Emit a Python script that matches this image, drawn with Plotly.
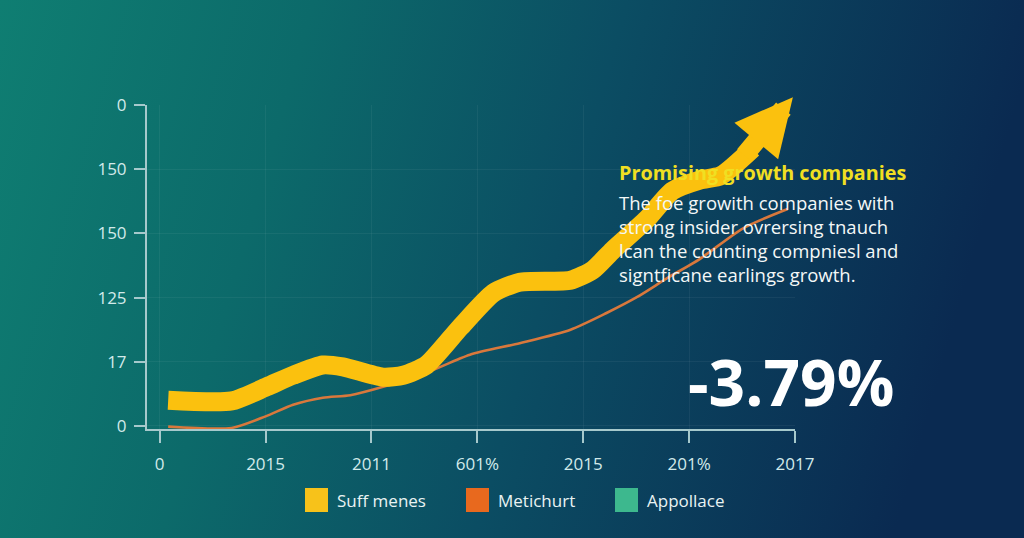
import base64
import plotly.graph_objects as go

# ---------------- data ----------------
x_tick_pos = [0, 1, 2, 3, 4, 5, 6]
x_tick_labels = ["0", "2015", "2011", "601%", "2015", "201%", "2017"]
y_tick_pos = [0, 1, 2, 3, 4, 5]
y_tick_labels = ["0", "17", "125", "150", "150", "0"]

yellow_x = [0.08, 0.68, 1.01, 1.26, 1.54, 1.73, 2.11, 2.30, 2.52, 2.84, 3.15, 3.40,
            3.88, 4.09, 4.28, 4.60, 4.84, 5.10, 5.30, 5.60]
yellow_y = [0.40, 0.39, 0.61, 0.79, 0.95, 0.92, 0.76, 0.79, 0.95, 1.54, 2.07, 2.24,
            2.27, 2.43, 2.74, 3.22, 3.66, 3.83, 3.90, 4.32]
arrow_tip = (5.98, 5.12)

orange_x = [0.08, 0.68, 1.00, 1.26, 1.54, 1.80, 2.11, 2.52, 2.93, 3.40, 3.88, 4.22,
            4.51, 4.80, 5.10, 5.51, 5.93]
orange_y = [-0.01, -0.03, 0.15, 0.33, 0.44, 0.48, 0.61, 0.83, 1.11, 1.29, 1.50, 1.76,
            2.01, 2.31, 2.60, 3.08, 3.38]

series_names = ["Suff menes", "Metichurt", "Appollace"]
series_colors = ["#F7C21A", "#E8691E", "#3DB88E"]

title_text = "Promising growth companies"
body_lines = ["The foe growith companies with",
              "strong insider ovrersing tnauch",
              "lcan the counting compniesl and",
              "signtficane earlings growth."]
big_value = "-3.79%"

# ---------------- layout geometry ----------------
W, H = 1024, 538
L, R, T, B = 147, 229, 105, 109
PW, PH = W - L - R, H - T - B


def px(xp):
    return (xp - L) / PW


def py(yp):
    return (H - B - yp) / PH


# background gradient as svg image
svg = f'''<svg xmlns="http://www.w3.org/2000/svg" width="{W}" height="{H}">
<defs>
<linearGradient id="g" x1="0" y1="0" x2="1" y2="0.15">
<stop offset="0" stop-color="#0f7e72"/>
<stop offset="0.3" stop-color="#0c6a6a"/>
<stop offset="0.6" stop-color="#0b4d63"/>
<stop offset="1" stop-color="#0a2a51"/>
</linearGradient>
</defs>
<rect width="{W}" height="{H}" fill="url(#g)"/>
</svg>'''
bg_src = "data:image/svg+xml;base64," + base64.b64encode(svg.encode()).decode()

fig = go.Figure()

fig.add_trace(go.Scatter(
    x=orange_x, y=orange_y, mode="lines", name=series_names[1],
    line=dict(color="#D9783C", width=2.6, shape="spline", smoothing=0.7),
    showlegend=False, hoverinfo="skip"))

fig.add_trace(go.Scatter(
    x=yellow_x, y=yellow_y, mode="lines", name=series_names[0],
    line=dict(color="#FBC10E", width=19, shape="spline", smoothing=0.6),
    showlegend=False, hoverinfo="skip"))

# arrow start slightly inside the last segment so the two strokes overlap
arrow_start_x = yellow_x[-1] - 0.3 * (yellow_x[-1] - yellow_x[-2])
arrow_start_y = yellow_y[-1] - 0.3 * (yellow_y[-1] - yellow_y[-2])

annotations = []
annotations.append(dict(
    x=arrow_tip[0], y=arrow_tip[1], ax=arrow_start_x, ay=arrow_start_y,
    xref="x", yref="y", axref="x", ayref="y", text="",
    showarrow=True, arrowhead=2, arrowsize=0.6, arrowwidth=19,
    arrowcolor="#FBC10E", standoff=0))

annotations.append(dict(
    x=px(617), y=py(172), xref="paper", yref="paper", xanchor="left", yanchor="middle",
    text="<b>" + title_text + "</b>", showarrow=False,
    font=dict(family="Open Sans", size=19.8, color="#F0DF22")))

annotations.append(dict(
    x=px(617), y=py(239), xref="paper", yref="paper", xanchor="left", yanchor="middle",
    text="<br>".join(body_lines), showarrow=False, align="left",
    font=dict(family="Open Sans", size=18.5, color="#F4F8F8")))

annotations.append(dict(
    x=px(791), y=py(381), xref="paper", yref="paper", xanchor="center", yanchor="middle",
    text="<b>" + big_value + "</b>", showarrow=False,
    font=dict(family="Open Sans", size=64, color="#FFFFFF")))

# manual legend
shapes = []
legend_sq_x = [305, 466, 615]
for i, (name, col) in enumerate(zip(series_names, series_colors)):
    x0 = legend_sq_x[i]
    shapes.append(dict(type="rect", xref="paper", yref="paper",
                       x0=px(x0), x1=px(x0 + 23), y0=py(512), y1=py(488),
                       fillcolor=col, line=dict(width=0)))
    annotations.append(dict(
        x=px(x0 + 30), y=py(500), xref="paper", yref="paper", xanchor="left",
        yanchor="middle", text=name, showarrow=False,
        font=dict(family="Open Sans", size=17, color="#E9F3F3")))

axis_col = "#A6C9CC"
fig.update_layout(
    width=W, height=H,
    margin=dict(l=L, r=R, t=T, b=B),
    paper_bgcolor="#0b4d63",
    plot_bgcolor="rgba(0,0,0,0)",
    showlegend=False,
    images=[dict(source=bg_src, xref="paper", yref="paper",
                 x=-L / PW, y=1 + T / PH, sizex=W / PW, sizey=H / PH,
                 xanchor="left", yanchor="top", sizing="stretch", layer="below")],
    annotations=annotations,
    shapes=shapes,
    xaxis=dict(range=[-0.12, 6.0], tickvals=x_tick_pos, ticktext=x_tick_labels,
               showline=True, linecolor=axis_col, linewidth=2,
               ticks="outside", ticklen=12, tickwidth=2, tickcolor=axis_col,
               ticklabelstandoff=7,
               showgrid=True, gridcolor="rgba(255,255,255,0.05)", zeroline=False,
               tickfont=dict(family="Open Sans", size=17, color="#D2EAEA")),
    yaxis=dict(range=[-0.047, 5.0], tickvals=y_tick_pos, ticktext=y_tick_labels,
               showline=True, linecolor=axis_col, linewidth=2,
               ticks="outside", ticklen=11, tickwidth=2, tickcolor=axis_col,
               ticklabelstandoff=4,
               showgrid=True, gridcolor="rgba(255,255,255,0.05)", zeroline=False,
               tickfont=dict(family="Open Sans", size=17, color="#D2EAEA")),
)

fig.write_html(
    "out.html",
    config={"displayModeBar": False},
    post_script="document.body.style.margin='0';document.body.style.overflow='hidden';",
)
